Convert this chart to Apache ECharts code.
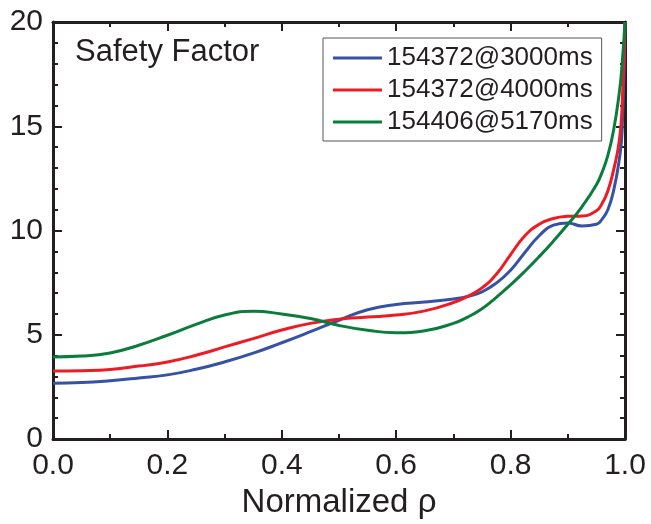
<!DOCTYPE html>
<html>
<head>
<meta charset="utf-8">
<script src="https://cdn.jsdelivr.net/npm/echarts@6/dist/echarts.min.js"></script>
<style>html,body{margin:0;padding:0;background:#fff;}#c{width:651px;height:524px;}</style>
</head>
<body>
<div id="c"></div>
<script>
const rho   = [0, 0.05, 0.1, 0.15, 0.2, 0.25, 0.3, 0.35, 0.4, 0.45, 0.5, 0.55, 0.6, 0.65, 0.7, 0.725, 0.75, 0.775, 0.8, 0.825, 0.85, 0.875, 0.9, 0.925, 0.95, 0.96, 0.97, 0.98, 0.99, 0.995, 1.0];
const q3000 = [2.68, 2.71, 2.8, 2.93, 3.08, 3.35, 3.7, 4.12, 4.62, 5.15, 5.7, 6.2, 6.45, 6.57, 6.72, 6.84, 7.06, 7.48, 8.1, 8.95, 9.75, 10.26, 10.36, 10.22, 10.3, 10.55, 11.0, 11.9, 13.4, 14.8, 20];
const q4000 = [3.26, 3.28, 3.34, 3.5, 3.7, 4.02, 4.42, 4.82, 5.23, 5.55, 5.75, 5.85, 5.95, 6.15, 6.55, 6.85, 7.25, 7.9, 8.85, 9.75, 10.3, 10.58, 10.68, 10.7, 10.95, 11.3, 11.9, 12.9, 14.3, 16.0, 20];
const q5170 = [3.94, 3.98, 4.13, 4.5, 4.98, 5.5, 5.95, 6.13, 6.0, 5.78, 5.45, 5.22, 5.1, 5.2, 5.55, 5.85, 6.25, 6.8, 7.4, 8.05, 8.75, 9.5, 10.3, 11.15, 12.2, 12.8, 13.6, 14.8, 16.6, 18.0, 20];
const seriesNames = ['154372@3000ms', '154372@4000ms', '154406@5170ms'];
const seriesColors = ['#3652a4', '#ed1c24', '#0a7d3c'];
const xTicks = [0, 0.2, 0.4, 0.6, 0.8, 1.0];
const yTicks = [0, 5, 10, 15, 20];
const chartTitle = 'Safety Factor';
const xLabel = 'Normalized ρ';

const ink = '#231f20';
const font = '"Liberation Sans", Arial, Helvetica, sans-serif';
const allY = [q3000, q4000, q5170];

const chart = echarts.init(document.getElementById('c'), null, {renderer: 'canvas'});
const axisLine = {show: true, onZero: false, lineStyle: {color: ink, width: 3}};
const xBase = {
  type: 'value', min: 0, max: 1, interval: 0.2,
  axisLine: axisLine,
  axisTick: {show: true, inside: true, length: 9, lineStyle: {color: ink, width: 2}},
  minorTick: {show: true, splitNumber: 2, length: 5, lineStyle: {color: ink, width: 2}},
  splitLine: {show: false}
};
const yBase = {
  type: 'value', min: 0, max: 20, interval: 5,
  axisLine: axisLine,
  axisTick: {show: true, inside: true, length: 9, lineStyle: {color: ink, width: 2}},
  minorTick: {show: true, splitNumber: 5, length: 5, lineStyle: {color: ink, width: 2}},
  splitLine: {show: false}
};
chart.setOption({
  animation: false,
  backgroundColor: '#ffffff',
  title: {
    text: chartTitle, left: 75, top: 36, padding: 0,
    textStyle: {fontFamily: font, fontSize: 31, fontWeight: 'normal', color: ink, lineHeight: 32}
  },
  legend: {
    data: seriesNames,
    left: 323, top: 38, orient: 'vertical',
    padding: [5, 9, 4, 10],
    itemGap: 2, itemWidth: 49, itemHeight: 3, itemTextGap: 6,
    icon: 'rect',
    borderColor: '#555', borderWidth: 1,
    textStyle: {fontFamily: font, fontSize: 26, color: ink, lineHeight: 30}
  },
  grid: {left: 53, right: 26, top: 22, bottom: 81, containLabel: false},
  xAxis: [
    Object.assign({}, xBase, {
      position: 'bottom',
      name: xLabel, nameLocation: 'middle', nameGap: 39,
      nameTextStyle: {fontFamily: font, fontSize: 33, color: ink},
      axisLabel: {
        show: true, margin: 12, fontFamily: font, fontSize: 30, color: ink,
        formatter: v => xTicks.some(t => Math.abs(t - v) < 1e-9) ? v.toFixed(1) : ''
      }
    }),
    Object.assign({}, xBase, {position: 'top', axisLabel: {show: false}})
  ],
  yAxis: [
    Object.assign({}, yBase, {
      position: 'left',
      axisLabel: {
        show: true, margin: 10, fontFamily: font, fontSize: 30, color: ink,
        formatter: v => yTicks.includes(v) ? String(v) : ''
      }
    }),
    Object.assign({}, yBase, {position: 'right', axisLabel: {show: false}})
  ],
  series: allY.map((ys, i) => ({
    name: seriesNames[i],
    type: 'line',
    xAxisIndex: 0, yAxisIndex: 0,
    data: rho.map((x, k) => [x, ys[k]]),
    smooth: 0.5,
    showSymbol: false,
    symbol: 'none',
    lineStyle: {color: seriesColors[i], width: 3},
    itemStyle: {color: seriesColors[i]},
    clip: true
  }))
});
</script>
</body>
</html>
